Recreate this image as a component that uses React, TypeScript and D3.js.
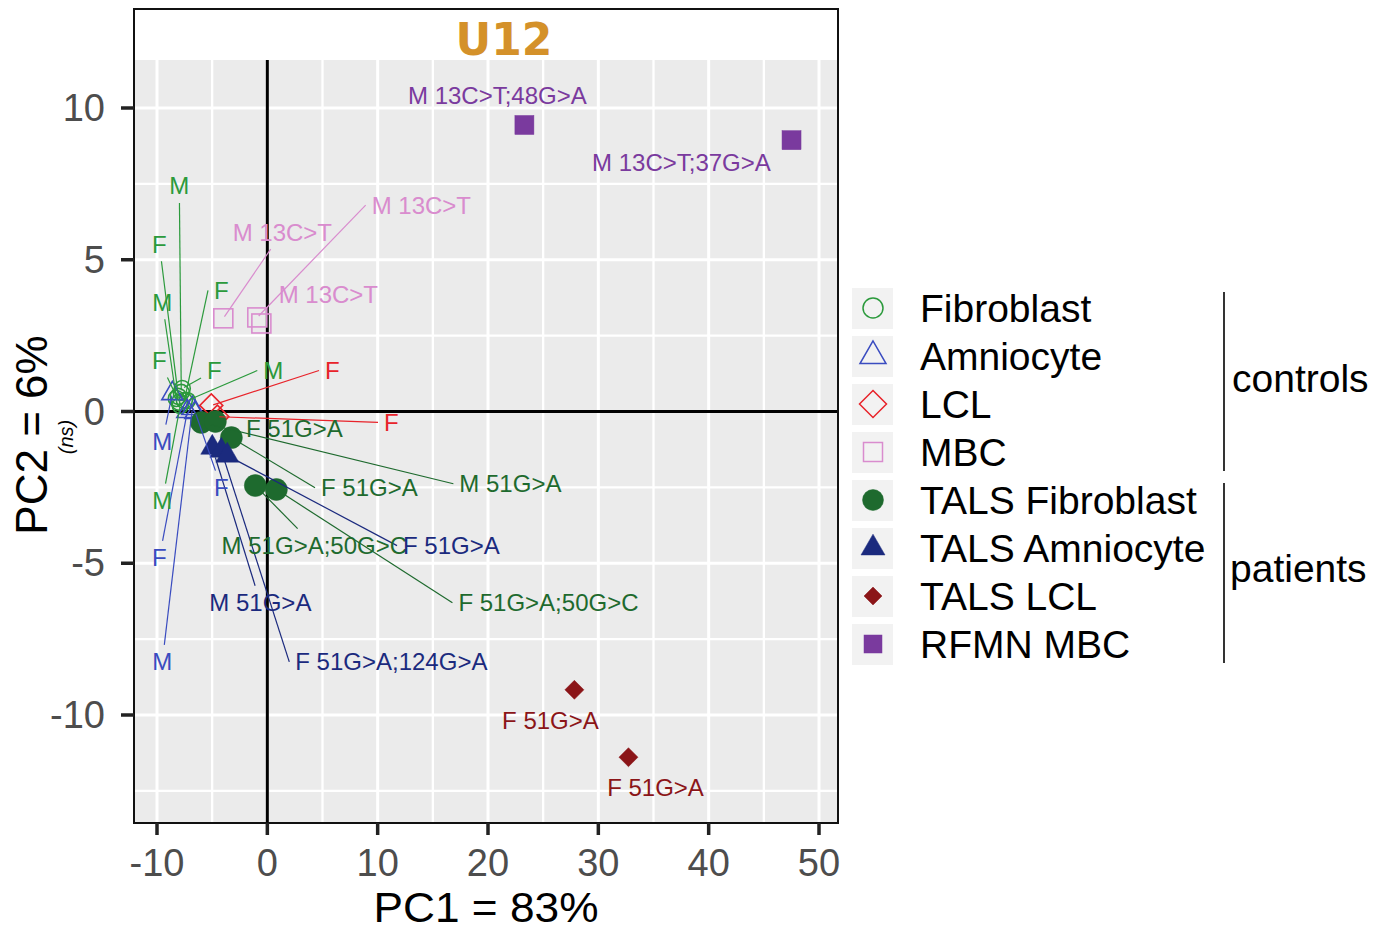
import React from "react";
import * as d3 from "d3";

// ---------- data ----------
const groups = [
  "Fibroblast",
  "Amniocyte",
  "LCL",
  "MBC",
  "TALS Fibroblast",
  "TALS Amniocyte",
  "TALS LCL",
  "RFMN MBC",
];
const groupColors = ["#2b9a3c", "#3a4cc0", "#e8232a", "#d98cce", "#1e6a2e", "#1b2a7e", "#8b1518", "#7a3a9e"];
const groupShapes = ["circle", "triangle", "diamond", "square", "circle", "triangle", "diamond", "square"];
const groupFilled = [false, false, false, false, true, true, true, true];
const groupSet = ["controls", "patients"];

const sampleGroup = [0, 0, 0, 0, 0, 0, 0, 0, 1, 1, 1, 1, 2, 2, 3, 3, 3, 4, 4, 4, 4, 4, 5, 5, 5, 6, 6, 7, 7];
const samplePC1 = [
  -7.8, -8.07, -8.25, -7.98, -7.52, -7.71, -7.25, -7.89,
  -8.61, -7.25, -6.8, -6.53,
  -5.08, -4.53,
  -3.99, -0.91, -0.54,
  -5.98, -4.71, -3.26, -1.09, 0.82,
  -4.99, -4.17, -3.63,
  27.83, 32.73,
  23.3, 47.51,
];
const samplePC2 = [
  0.63, 0.5, 0.43, 0.3, 0.36, 0.76, 0.36, 0.2,
  0.59, 0.0, 0.1, -0.03,
  0.2, -0.17,
  3.07, 3.1, 2.9,
  -0.36, -0.33, -0.86, -2.44, -2.57,
  -1.19, -1.29, -1.45,
  -9.17, -11.39,
  9.44, 8.94,
];
const sampleLabel = [
  "M", "F", "M", "F", "F", "F", "M", "M",
  "M", "F", "M", "F",
  "F", "F",
  "M 13C>T", "M 13C>T", "M 13C>T",
  "M 51G>A", "F 51G>A", "F 51G>A", "M 51G>A;50G>C", "F 51G>A;50G>C",
  "M 51G>A", "F 51G>A;124G>A", "F 51G>A",
  "F 51G>A", "F 51G>A",
  "M 13C>T;48G>A", "M 13C>T;37G>A",
];
const labelPC1 = [
  -7.98, -9.79, -9.52, -9.79, -4.17, -4.8, 0.54, -9.52,
  -9.52, -9.79, -9.52, -4.17,
  5.89, 11.24,
  1.36, 13.96, 5.53,
  22.03, 2.45, 9.25, 4.26, 25.48,
  -0.63, 11.24, 16.68,
  25.66, 35.18,
  20.85, 37.53,
];
const labelPC2 = [
  7.43, 5.51, 3.6, 1.68, 3.99, 1.35, 1.35, -2.94,
  -0.99, -4.82, -8.25, -2.51,
  1.35, -0.36,
  5.91, 6.8, 3.86,
  -2.38, -0.56, -2.51, -4.42, -6.3,
  -6.3, -8.25, -4.42,
  -10.17, -12.38,
  10.4, 8.22,
];
const labelLinked = [
  true, true, true, true, true, true, true, true,
  true, true, true, true,
  true, true,
  true, true, false,
  true, false, true, true, true,
  true, true, true,
  false, false,
  false, false,
];

const xTicks = [-10, 0, 10, 20, 30, 40, 50];
const yTicks = [-10, -5, 0, 5, 10];
const xMinor = [-5, 5, 15, 25, 35, 45];
const yMinor = [-12.5, -7.5, -2.5, 2.5, 7.5];
const titleText = "U12";
const xTitle = "PC1 = 83%";
const yTitle = "PC2 = 6%";
const ySub = "(ns)";

// ---------- layout ----------
const W = 1386;
const H = 931;
const panel = { left: 134, right: 838, top: 60, bottom: 823, frameTop: 9 };
const FONT = "'Liberation Sans', Arial, Helvetica, sans-serif";
const LABEL_SIZE = 24;

let ctx: CanvasRenderingContext2D | null = null;
function measure(text: string, size: number) {
  if (!ctx) ctx = document.createElement("canvas").getContext("2d");
  if (!ctx) return text.length * size * 0.55;
  ctx.font = `${size}px 'Liberation Sans', Arial, sans-serif`;
  return ctx.measureText(text).width;
}

function Marker({ cx, cy, shape, filled, color, size, sw = 1.6 }: any) {
  const fill = filled ? color : "none";
  const stroke = color;
  const strokeWidth = filled ? 0.5 : sw;
  if (shape === "circle") {
    return <circle cx={cx} cy={cy} r={size} fill={fill} stroke={stroke} strokeWidth={strokeWidth} />;
  }
  if (shape === "triangle") {
    const w = size * 2;
    const h = w * 0.866;
    const pts = [
      [cx, cy - (h * 2) / 3],
      [cx - w / 2, cy + h / 3],
      [cx + w / 2, cy + h / 3],
    ];
    return <polygon points={pts.map((p) => p.join(",")).join(" ")} fill={fill} stroke={stroke} strokeWidth={strokeWidth} />;
  }
  if (shape === "diamond") {
    const pts = [
      [cx, cy - size],
      [cx + size, cy],
      [cx, cy + size],
      [cx - size, cy],
    ];
    return <polygon points={pts.map((p) => p.join(",")).join(" ")} fill={fill} stroke={stroke} strokeWidth={strokeWidth} />;
  }
  return <rect x={cx - size} y={cy - size} width={size * 2} height={size * 2} fill={fill} stroke={stroke} strokeWidth={strokeWidth} />;
}

const plotSize: Record<string, number[]> = {
  // [open, filled]
  circle: [8, 11],
  triangle: [10.5, 11.5],
  diamond: [11.5, 9.5],
  square: [9.5, 9.5],
};
const legendSize: Record<string, number[]> = {
  circle: [10, 10.5],
  triangle: [13, 12],
  diamond: [13.5, 9],
  square: [9.5, 9],
};

export default function App() {
  const x = d3.scaleLinear().domain([-10, 50]).range([157, 819]);
  const y = d3.scaleLinear().domain([-10, 10]).range([715, 108]);

  const samples = sampleGroup.map((g, i) => ({
    g,
    px: x(samplePC1[i]),
    py: y(samplePC2[i]),
    lx: x(labelPC1[i]),
    ly: y(labelPC2[i]),
    label: sampleLabel[i],
    linked: labelLinked[i],
  }));

  const segments = samples
    .map((s, i) => {
      if (!s.linked) return null;
      const hw = measure(s.label, LABEL_SIZE) / 2 + 6;
      const hh = LABEL_SIZE / 2 + 5;
      const x1 = s.lx - hw, x2 = s.lx + hw;
      let sx: number, sy: number;
      const outX = s.px < x1 ? x1 - s.px : s.px > x2 ? s.px - x2 : 0;
      if (outX > 20) {
        sx = s.px < x1 ? x1 : x2;
        sy = s.ly;
      } else {
        const dx = s.px - s.lx;
        const dy = s.py - s.ly;
        const t = Math.min(dx === 0 ? Infinity : hw / Math.abs(dx), dy === 0 ? Infinity : hh / Math.abs(dy));
        if (t >= 1) return null;
        sx = s.lx + t * dx;
        sy = s.ly + t * dy;
      }
      const len = Math.hypot(s.px - sx, s.py - sy);
      const shape = groupShapes[s.g];
      const pad = groupFilled[s.g] ? plotSize[shape][1] * 0.9 : 2;
      if (len <= pad + 2) return null;
      const ex = s.px - ((s.px - sx) / len) * pad;
      const ey = s.py - ((s.py - sy) / len) * pad;
      return { i, sx, sy, ex, ey, color: groupColors[s.g] };
    })
    .filter(Boolean) as any[];

  const legendTop = 288;
  const legendStep = 48;

  return (
    <svg width={W} height={H} style={{ position: "absolute", left: 0, top: 0, background: "#fff" }} fontFamily={FONT}>
      {/* panel background */}
      <rect x={panel.left} y={panel.top} width={panel.right - panel.left} height={panel.bottom - panel.top} fill="#ebebeb" />
      {/* minor grid */}
      {xMinor.map((v) => (
        <line key={"xm" + v} x1={x(v)} x2={x(v)} y1={panel.top} y2={panel.bottom} stroke="#fff" strokeWidth={2.3} />
      ))}
      {yMinor.map((v) => (
        <line key={"ym" + v} x1={panel.left} x2={panel.right} y1={y(v)} y2={y(v)} stroke="#fff" strokeWidth={2.3} />
      ))}
      {/* major grid */}
      {xTicks.map((v) => (
        <line key={"xg" + v} x1={x(v)} x2={x(v)} y1={panel.top} y2={panel.bottom} stroke="#fff" strokeWidth={3} />
      ))}
      {yTicks.map((v) => (
        <line key={"yg" + v} x1={panel.left} x2={panel.right} y1={y(v)} y2={y(v)} stroke="#fff" strokeWidth={3} />
      ))}
      {/* zero lines */}
      <line x1={x(0)} x2={x(0)} y1={panel.top} y2={panel.bottom} stroke="#000" strokeWidth={3} />
      <line x1={panel.left} x2={panel.right} y1={y(0)} y2={y(0)} stroke="#000" strokeWidth={3} />

      {/* points */}
      {samples.map((s, i) => {
        const shape = groupShapes[s.g];
        const filled = groupFilled[s.g];
        return (
          <Marker
            key={"p" + i}
            cx={s.px}
            cy={s.py}
            shape={shape}
            filled={filled}
            color={groupColors[s.g]}
            size={plotSize[shape][filled ? 1 : 0]}
          />
        );
      })}
      {/* segments */}
      {segments.map((sg) => (
        <line key={"s" + sg.i} x1={sg.sx} y1={sg.sy} x2={sg.ex} y2={sg.ey} stroke={sg.color} strokeWidth={1.2} />
      ))}
      {/* labels */}
      {samples.map((s, i) => (
        <text
          key={"l" + i}
          x={s.lx}
          y={s.ly}
          fontSize={LABEL_SIZE}
          fill={groupColors[s.g]}
          textAnchor="middle"
          dominantBaseline="central"
        >
          {s.label}
        </text>
      ))}

      {/* frame */}
      <rect
        x={panel.left}
        y={panel.frameTop}
        width={panel.right - panel.left}
        height={panel.bottom - panel.frameTop}
        fill="none"
        stroke="#111"
        strokeWidth={2}
      />
      {/* title */}
      <text
        x={504}
        y={55}
        textAnchor="middle"
        fontFamily="'DejaVu Sans', sans-serif"
        fontWeight="bold"
        fontSize={44}
        fill="#d4912a"
      >
        {titleText}
      </text>

      {/* axes ticks */}
      {xTicks.map((v) => (
        <g key={"xt" + v}>
          <line x1={x(v)} x2={x(v)} y1={panel.bottom} y2={panel.bottom + 12} stroke="#222" strokeWidth={3.5} />
          <text x={x(v)} y={876} textAnchor="middle" fontSize={38} fill="#4d4d4d">
            {v}
          </text>
        </g>
      ))}
      {yTicks.map((v) => (
        <g key={"yt" + v}>
          <line x1={panel.left - 13} x2={panel.left} y1={y(v)} y2={y(v)} stroke="#222" strokeWidth={3.5} />
          <text x={105} y={y(v)} textAnchor="end" dominantBaseline="central" fontSize={38} fill="#4d4d4d">
            {v}
          </text>
        </g>
      ))}
      {/* axis titles */}
      <text x={486} y={922} textAnchor="middle" fontSize={42} fill="#000" textLength={225} lengthAdjust="spacingAndGlyphs">
        {xTitle}
      </text>
      <text transform="translate(47,435) rotate(-90)" textAnchor="middle" fontSize={44} fill="#000">
        {yTitle}
      </text>
      <text transform="translate(73,437) rotate(-90)" textAnchor="middle" fontSize={20} fontStyle="italic" fill="#000">
        {ySub}
      </text>

      {/* legend */}
      {groups.map((g, i) => {
        const cy = legendTop + i * legendStep + 20;
        const shape = groupShapes[i];
        const filled = groupFilled[i];
        return (
          <g key={"lg" + i}>
            <rect x={852} y={cy - 20} width={41} height={41} fill="#f2f2f2" />
            <Marker cx={873} cy={cy} shape={shape} filled={filled} color={groupColors[i]} size={legendSize[shape][filled ? 1 : 0]} sw={1.5} />
            <text x={920} y={cy} dominantBaseline="central" fontSize={39} fill="#000">
              {g}
            </text>
          </g>
        );
      })}
      {/* brackets */}
      <line x1={1224} x2={1224} y1={292} y2={471} stroke="#000" strokeWidth={1.6} />
      <line x1={1224} x2={1224} y1={483} y2={663} stroke="#000" strokeWidth={1.6} />
      <text x={1232} y={378} dominantBaseline="central" fontSize={39} fill="#000">
        {groupSet[0]}
      </text>
      <text x={1230} y={568} dominantBaseline="central" fontSize={39} fill="#000">
        {groupSet[1]}
      </text>
    </svg>
  );
}
